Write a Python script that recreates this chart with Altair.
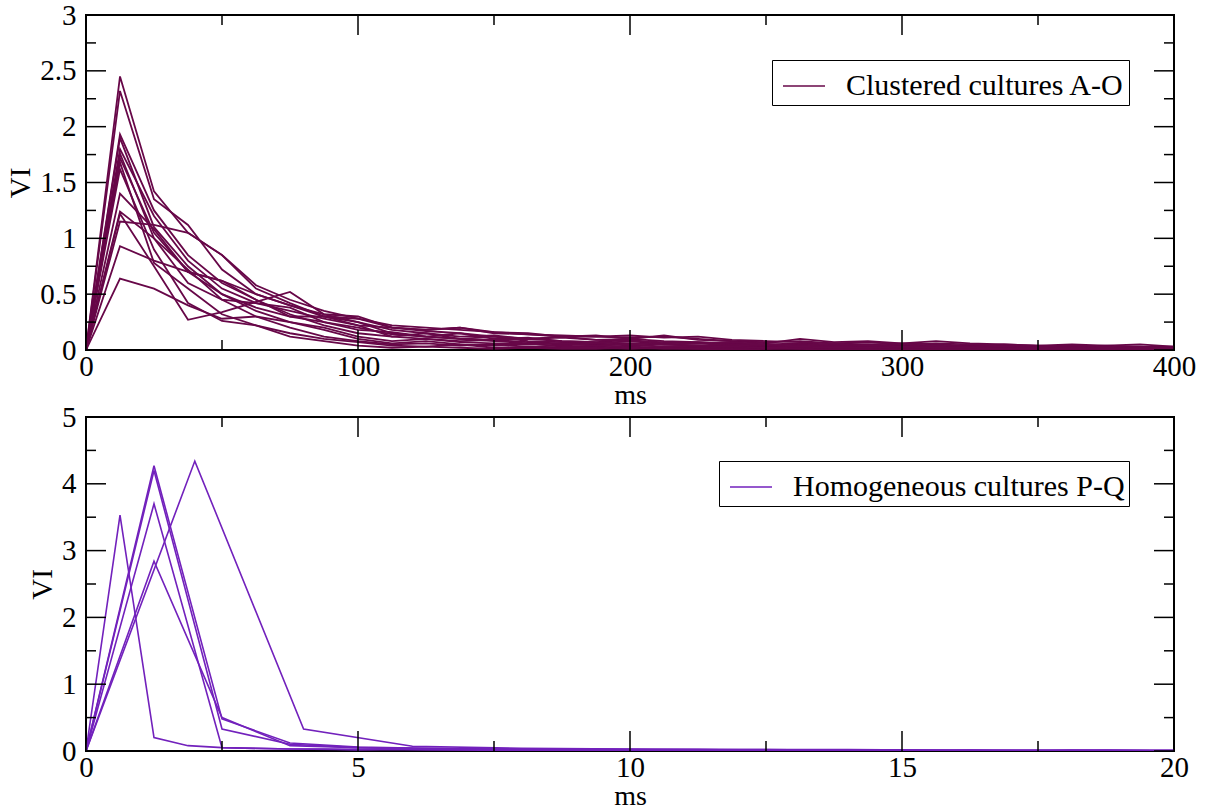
import altair as alt
import pandas as pd

FONT = "Liberation Serif"
MAROON = "#670748"
INDIGO = "#7221bc"

# ---------------- top panel data (clustered cultures A-O) ----------------
top_ms = [0, 12.5, 25, 37.5, 50, 62.5, 75, 87.5, 100, 112.5, 125, 137.5, 150, 162.5,
          175, 187.5, 200, 212.5, 225, 237.5, 250, 262.5, 275, 287.5, 300, 312.5, 325,
          337.5, 350, 362.5, 375, 387.5, 400]

cult_A = [0, 2.45, 1.42, 1.05, 0.85, 0.58, 0.45, 0.35, 0.28, 0.20, 0.18, 0.20, 0.15, 0.14, 0.12, 0.12, 0.11, 0.12, 0.10, 0.08, 0.07, 0.08, 0.06, 0.05, 0.06, 0.05, 0.04, 0.05, 0.04, 0.03, 0.04, 0.03, 0.03]
cult_B = [0, 2.32, 1.35, 1.12, 0.72, 0.50, 0.40, 0.30, 0.25, 0.18, 0.15, 0.12, 0.13, 0.10, 0.11, 0.09, 0.10, 0.08, 0.07, 0.06, 0.05, 0.06, 0.05, 0.04, 0.05, 0.04, 0.03, 0.04, 0.03, 0.04, 0.03, 0.02, 0.02]
cult_C = [0, 1.93, 1.25, 0.85, 0.60, 0.45, 0.32, 0.22, 0.15, 0.12, 0.10, 0.08, 0.09, 0.07, 0.06, 0.05, 0.06, 0.05, 0.04, 0.04, 0.03, 0.04, 0.03, 0.03, 0.02, 0.03, 0.02, 0.02, 0.03, 0.02, 0.02, 0.02, 0.01]
cult_D = [0, 1.90, 1.10, 0.75, 0.50, 0.38, 0.30, 0.25, 0.20, 0.14, 0.12, 0.10, 0.08, 0.06, 0.05, 0.06, 0.04, 0.05, 0.04, 0.03, 0.04, 0.03, 0.03, 0.02, 0.03, 0.02, 0.02, 0.01, 0.02, 0.02, 0.01, 0.01, 0.01]
cult_E = [0, 1.80, 1.20, 0.80, 0.55, 0.42, 0.35, 0.28, 0.22, 0.20, 0.18, 0.20, 0.16, 0.15, 0.12, 0.13, 0.10, 0.13, 0.09, 0.08, 0.06, 0.10, 0.07, 0.08, 0.06, 0.08, 0.06, 0.05, 0.04, 0.05, 0.04, 0.05, 0.03]
cult_F = [0, 1.76, 1.00, 0.60, 0.45, 0.30, 0.20, 0.12, 0.08, 0.05, 0.06, 0.04, 0.05, 0.03, 0.04, 0.03, 0.02, 0.03, 0.02, 0.02, 0.01, 0.02, 0.01, 0.02, 0.01, 0.01, 0.02, 0.01, 0.01, 0.01, 0.01, 0.01, 0.01]
cult_G = [0, 1.72, 1.05, 0.70, 0.50, 0.35, 0.25, 0.18, 0.10, 0.06, 0.08, 0.05, 0.04, 0.06, 0.03, 0.04, 0.03, 0.02, 0.03, 0.02, 0.02, 0.03, 0.02, 0.01, 0.02, 0.02, 0.01, 0.02, 0.01, 0.02, 0.01, 0.01, 0.01]
cult_H = [0, 1.68, 0.78, 0.55, 0.32, 0.22, 0.15, 0.10, 0.07, 0.04, 0.03, 0.05, 0.02, 0.03, 0.02, 0.02, 0.01, 0.02, 0.01, 0.01, 0.02, 0.01, 0.01, 0.01, 0.00, 0.01, 0.01, 0.00, 0.01, 0.01, 0.00, 0.01, 0.00]
cult_I = [0, 1.62, 0.90, 0.42, 0.26, 0.22, 0.12, 0.08, 0.04, 0.02, 0.03, 0.02, 0.01, 0.02, 0.01, 0.01, 0.02, 0.01, 0.01, 0.00, 0.01, 0.01, 0.00, 0.01, 0.00, 0.01, 0.00, 0.00, 0.01, 0.00, 0.00, 0.01, 0.00]
cult_J = [0, 1.40, 1.08, 0.70, 0.62, 0.45, 0.30, 0.30, 0.22, 0.12, 0.15, 0.10, 0.12, 0.08, 0.07, 0.06, 0.08, 0.05, 0.04, 0.05, 0.04, 0.05, 0.04, 0.03, 0.04, 0.03, 0.03, 0.04, 0.03, 0.02, 0.03, 0.02, 0.02]
cult_K = [0, 1.24, 1.00, 0.72, 0.45, 0.42, 0.38, 0.25, 0.18, 0.16, 0.12, 0.15, 0.10, 0.11, 0.08, 0.07, 0.09, 0.06, 0.07, 0.05, 0.04, 0.05, 0.04, 0.05, 0.03, 0.04, 0.03, 0.03, 0.02, 0.03, 0.02, 0.02, 0.02]
cult_L = [0, 1.22, 0.75, 0.27, 0.34, 0.43, 0.52, 0.32, 0.30, 0.20, 0.17, 0.15, 0.12, 0.10, 0.12, 0.09, 0.08, 0.07, 0.06, 0.07, 0.05, 0.04, 0.05, 0.04, 0.03, 0.04, 0.03, 0.02, 0.03, 0.02, 0.03, 0.02, 0.02]
cult_M = [0, 1.15, 1.12, 1.05, 0.85, 0.55, 0.42, 0.30, 0.28, 0.22, 0.20, 0.18, 0.16, 0.14, 0.13, 0.12, 0.13, 0.11, 0.12, 0.09, 0.08, 0.07, 0.06, 0.07, 0.05, 0.06, 0.05, 0.04, 0.03, 0.04, 0.03, 0.03, 0.02]
cult_N = [0, 0.93, 0.80, 0.70, 0.62, 0.50, 0.40, 0.32, 0.25, 0.15, 0.12, 0.10, 0.09, 0.10, 0.08, 0.07, 0.06, 0.05, 0.06, 0.04, 0.05, 0.04, 0.03, 0.04, 0.03, 0.03, 0.02, 0.03, 0.02, 0.02, 0.03, 0.02, 0.02]
cult_O = [0, 0.64, 0.55, 0.40, 0.28, 0.30, 0.25, 0.20, 0.12, 0.08, 0.10, 0.07, 0.06, 0.05, 0.06, 0.04, 0.05, 0.03, 0.04, 0.03, 0.02, 0.03, 0.02, 0.02, 0.03, 0.02, 0.02, 0.01, 0.02, 0.01, 0.02, 0.01, 0.01]

top_series = {"A": cult_A, "B": cult_B, "C": cult_C, "D": cult_D, "E": cult_E,
              "F": cult_F, "G": cult_G, "H": cult_H, "I": cult_I, "J": cult_J,
              "K": cult_K, "L": cult_L, "M": cult_M, "N": cult_N, "O": cult_O}

# ---------------- bottom panel data (homogeneous cultures P-Q) ----------------
bot_ms_fine = [0, 0.625, 1.25, 1.875, 2.5, 3.125, 3.75, 4.375, 5, 5.625, 6.25, 6.875,
               7.5, 8.125, 8.75, 9.375, 10, 10.625, 11.25, 11.875, 12.5, 13.125, 13.75,
               14.375, 15, 15.625, 16.25, 16.875, 17.5, 18.125, 18.75, 19.375, 20]
bot_ms_mid = [0, 1.25, 2.5, 3.75, 5, 6.25, 7.5, 8.75, 10, 11.25, 12.5, 13.75, 15,
              16.25, 17.5, 18.75, 20]
bot_ms_coarse = [0, 2, 4, 6, 8, 10, 12, 14, 16, 18, 20]

rec_P1 = [0, 3.53, 0.20, 0.08, 0.05, 0.04, 0.03, 0.03, 0.02, 0.03, 0.02, 0.02, 0.02, 0.01, 0.02, 0.01, 0.01, 0.01, 0.01, 0.01, 0.01, 0.01, 0.00, 0.01, 0.01, 0.00, 0.01, 0.00, 0.00, 0.01, 0.00, 0.00, 0.00]
rec_P2 = [0, 4.27, 0.48, 0.12, 0.06, 0.04, 0.03, 0.03, 0.02, 0.02, 0.02, 0.01, 0.01, 0.01, 0.01, 0.01, 0.01]
rec_P3 = [0, 4.20, 0.33, 0.10, 0.05, 0.04, 0.03, 0.02, 0.02, 0.02, 0.01, 0.01, 0.01, 0.01, 0.01, 0.01, 0.00]
rec_Q1 = [0, 3.70, 0.05, 0.03, 0.02, 0.02, 0.01, 0.01, 0.01, 0.01, 0.01, 0.00, 0.01, 0.00, 0.00, 0.00, 0.00]
rec_Q2 = [0, 2.84, 0.50, 0.08, 0.05, 0.03, 0.03, 0.02, 0.02, 0.01, 0.01, 0.01, 0.01, 0.01, 0.00, 0.01, 0.00]
rec_Q3 = [0, 4.34, 0.33, 0.07, 0.04, 0.03, 0.02, 0.02, 0.01, 0.01, 0.01]

bot_series = [("P1", bot_ms_fine, rec_P1), ("P2", bot_ms_mid, rec_P2),
              ("P3", bot_ms_mid, rec_P3), ("Q1", bot_ms_mid, rec_Q1),
              ("Q2", bot_ms_mid, rec_Q2), ("Q3", bot_ms_coarse, rec_Q3)]

# ---------------- axis ticks ----------------
top_x_major = [0, 100, 200, 300, 400]
top_x_minor = [50, 150, 250, 350]
top_y_major = [0, 0.5, 1, 1.5, 2, 2.5, 3]
top_y_minor = [0.25, 0.75, 1.25, 1.75, 2.25, 2.75]
bot_x_major = [0, 5, 10, 15, 20]
bot_x_minor = [2.5, 7.5, 12.5, 17.5]
bot_y_major = [0, 1, 2, 3, 4, 5]
bot_y_minor = [0.5, 1.5, 2.5, 3.5, 4.5]

TOP_LABEL = "Clustered cultures A-O"
BOT_LABEL = "Homogeneous cultures P-Q"

rows = []
for name, vals in top_series.items():
    for x, y in zip(top_ms, vals):
        rows.append({"ms": x, "vi": y, "culture": name, "group": TOP_LABEL})
df_top = pd.DataFrame(rows)

rows = []
for name, xs, vals in bot_series:
    for x, y in zip(xs, vals):
        rows.append({"ms": x, "vi": y, "culture": name, "group": BOT_LABEL})
df_bot = pd.DataFrame(rows)

W = 1088
H_TOP = 335
H_BOT = 334
MAJOR = 20
MINOR = 10


def panel(df, xdom, ydom, xmaj, xmin, ymaj, ymin, H, color, label, legx, legy, yfmt,
          title_y, lw):
    xs = alt.Scale(domain=xdom, nice=False, zero=False)
    ys = alt.Scale(domain=ydom, nice=False, zero=False)
    xaxis = alt.Axis(
        values=xmaj, format="d", title="ms", titleFont=FONT, titleFontSize=28,
        titleFontWeight="normal", titleColor="black", titleBaseline="alphabetic",
        titleY=title_y, labelFont=FONT, labelFontSize=29, labelColor="black",
        labelPadding=2, ticks=False, tickSize=0, domain=False, grid=False,
        labelFlush=False, labelOverlap=False)
    yaxis = alt.Axis(
        values=ymaj, format=yfmt, title="VI", titleFont=FONT, titleFontSize=29,
        titleFontWeight="normal", titleColor="black", titlePadding=4,
        labelFont=FONT, labelFontSize=29, labelColor="black", labelPadding=10,
        ticks=False, tickSize=0, domain=False, grid=False, labelFlush=False,
        labelOverlap=False)
    lines = alt.Chart(df).mark_line(strokeWidth=lw, clip=True).encode(
        x=alt.X("ms:Q", scale=xs, axis=xaxis),
        y=alt.Y("vi:Q", scale=ys, axis=yaxis),
        color=alt.Color("group:N", scale=alt.Scale(domain=[label], range=[color]),
                        legend=alt.Legend(
                            title=None, orient="none", legendX=legx, legendY=legy,
                            symbolType="stroke", symbolSize=1764, symbolStrokeWidth=1.5,
                            labelFont=FONT, labelFontSize=30, labelColor="black",
                            labelLimit=600, strokeColor="black", padding=4,
                            symbolOffset=6, labelOffset=20, fillColor="white")),
        detail="culture:N",
        order="ms:Q",
    )
    layers = [lines]
    for vals, L in ((xmaj, MAJOR), (xmin, MINOR)):
        d = pd.DataFrame({"ms": vals})
        base = alt.Chart(d).mark_rule(color="black", strokeWidth=1.5)
        layers.append(base.encode(x=alt.X("ms:Q", scale=xs, axis=xaxis),
                                  y=alt.value(H), y2=alt.value(H - L)))
        layers.append(base.encode(x=alt.X("ms:Q", scale=xs, axis=xaxis),
                                  y=alt.value(0), y2=alt.value(L)))
    for vals, L in ((ymaj, MAJOR), (ymin, MINOR)):
        d = pd.DataFrame({"vi": vals})
        base = alt.Chart(d).mark_rule(color="black", strokeWidth=1.5)
        layers.append(base.encode(y=alt.Y("vi:Q", scale=ys, axis=yaxis),
                                  x=alt.value(0), x2=alt.value(L)))
        layers.append(base.encode(y=alt.Y("vi:Q", scale=ys, axis=yaxis),
                                  x=alt.value(W), x2=alt.value(W - L)))
    return alt.layer(*layers).properties(width=W, height=H)


top = panel(df_top, [0, 400], [0, 3], top_x_major, top_x_minor, top_y_major, top_y_minor,
            H_TOP, MAROON, TOP_LABEL, 686, 45, "~g", 53, 1.8)
bot = panel(df_bot, [0, 20], [0, 5], bot_x_major, bot_x_minor, bot_y_major, bot_y_minor,
            H_BOT, INDIGO, BOT_LABEL, 633, 44, "d", 53, 1.6)

chart = alt.vconcat(top, bot, spacing=67, bounds="flush").resolve_scale(
    color="independent", x="independent", y="independent"
).resolve_legend(color="independent").properties(
    padding={"left": 5, "top": 0, "right": 5, "bottom": 5},
    background="white",
).configure_view(stroke="black", strokeWidth=2)

chart.save("out.html", embed_options={"renderer": "svg", "actions": False})
